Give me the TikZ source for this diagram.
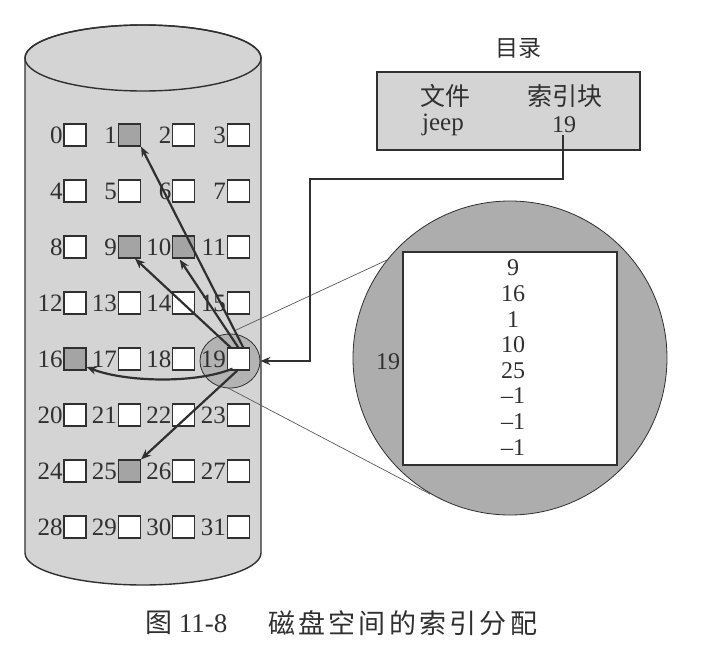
\documentclass[tikz,border=0pt]{standalone}
\usepackage{fontspec}
\setmainfont{Liberation Serif}
\newfontfamily\cjk{Noto Sans CJK SC}
\usetikzlibrary{arrows.meta,calc,shapes.geometric}
\definecolor{cylfill}{HTML}{D4D4D4}
\definecolor{boxdark}{HTML}{A4A4A4}
\definecolor{bigfill}{HTML}{ADADAD}
\definecolor{zoomfill}{HTML}{B0B0B0}
\definecolor{ink}{HTML}{303030}
\tikzset{
  cell/.style={draw=ink, line width=1.3pt, fill=white, minimum size=22pt, inner sep=0pt},
  numlab/.style={font=\fontsize{25}{25}\selectfont, inner sep=0.6pt, anchor=east, text=ink},
  ptr/.style={draw=ink, line width=2.2pt, -{Stealth[length=10pt,width=8pt]}},
  thin/.style={draw=ink!80, line width=0.7pt},
  digit/.style={font=\fontsize{24}{24}\selectfont, inner sep=0pt, text=ink},
  cjktext/.style={font=\cjk\fontsize{24}{24}\selectfont, inner sep=0pt, text=ink}
}
\begin{document}
\begin{tikzpicture}[x=1pt,y=-1pt]
\useasboundingbox (0,0) rectangle (716,656);
% cylinder
\path[fill=cylfill, draw=ink, line width=1.4pt]
  (25,58) -- (25,553) arc[start angle=180, end angle=360, x radius=118pt, y radius=32pt]
  -- (261,58) arc[start angle=0, end angle=180, x radius=118pt, y radius=33pt] -- cycle;
\draw[ink, line width=1.4pt] (143,58) ellipse[x radius=118pt, y radius=33pt];
% thin zoom lines
\draw[thin] (234,331) -- (387,260);
\draw[thin] (228,388) -- (430,494);
% small zoom circle
\node[draw=ink, line width=0.8pt, fill=zoomfill, fill opacity=0.9, ellipse, minimum width=60pt, minimum height=54pt, inner sep=0pt] (zc) at (230,361) {};
% grid
\foreach \r in {0,...,7}{
  \foreach \c in {0,...,3}{
    \pgfmathtruncatemacro{\n}{4*\r+\c}
    \node[cell] (b\n) at ({75+54.4*\c},{135+56*\r}) {};
    \node[numlab] at (b\n.west) {\n};
  }
}
\foreach \n in {1,9,10,16,25}{
  \node[cell, fill=boxdark] at (b\n) {};
}
% pointers from block 19
\draw[ptr] ($(b19.north)+(5,0)$) -- ($(b1.south east)+(0,0)$);
\draw[ptr] ($(b19.north)+(0,0)$) -- ($(b10.south)+(-4,1)$);
\draw[ptr] ($(b19.north west)+(5,1)$) -- ($(b9.south east)+(-6,0)$);
\draw[ptr] ($(b19.south west)+(6,-2)$) .. controls (195,384) and (125,382) .. ($(b16.east)+(0,8)$);
\draw[ptr] ($(b19.south)+(-1,0)$) -- ($(b25.north east)+(0,0)$);
% directory
\node[cjktext, font=\cjk\fontsize{23}{23}\selectfont] (dirtitle) at (518,48) {目录};
\node[draw=ink, line width=2pt, fill=cylfill, minimum width=263pt, minimum height=78pt, inner sep=0pt] (dir) at (508.5,111) {};
\node[cjktext, font=\cjk\fontsize{25}{25}\selectfont] (hfile) at (445,96) {文件};
\node[cjktext, font=\cjk\fontsize{25}{25}\selectfont] (hidx) at (565,96) {索引块};
\node[digit, font=\fontsize{25}{25}\selectfont] (jeep) at (443,125) {jeep};
\node[digit] (d19) at (564,125) {19};
\draw[ptr] ($(d19.south)+(-1,2)$) |- (310,179) |- (zc.east);
% big circle
\node[circle, draw=ink, line width=0.8pt, fill=bigfill, minimum size=314pt, inner sep=0pt] (big) at (510,358) {};
\node[draw=ink, line width=2pt, fill=white, minimum width=214pt, minimum height=213pt, inner sep=0pt] (blk) at (510,358.5) {};
\node[digit] (lab19) at (388,362) {19};
\foreach \v [count=\i from 0] in {9,16,1,10,25,--1,--1,--1}{
  \node[digit] at (513,{268+25.6*\i}) {\v};
}
% caption
\node[cjktext, font=\fontsize{27}{27}\selectfont, anchor=west] (cap1) at (145,623) {{\cjk 图} 11-8};
\node[cjktext, font=\cjk\fontsize{27}{27}\selectfont\addfontfeature{LetterSpace=12}, anchor=west] (cap2) at (268,623) {磁盘空间的索引分配};
\end{tikzpicture}
\end{document}
